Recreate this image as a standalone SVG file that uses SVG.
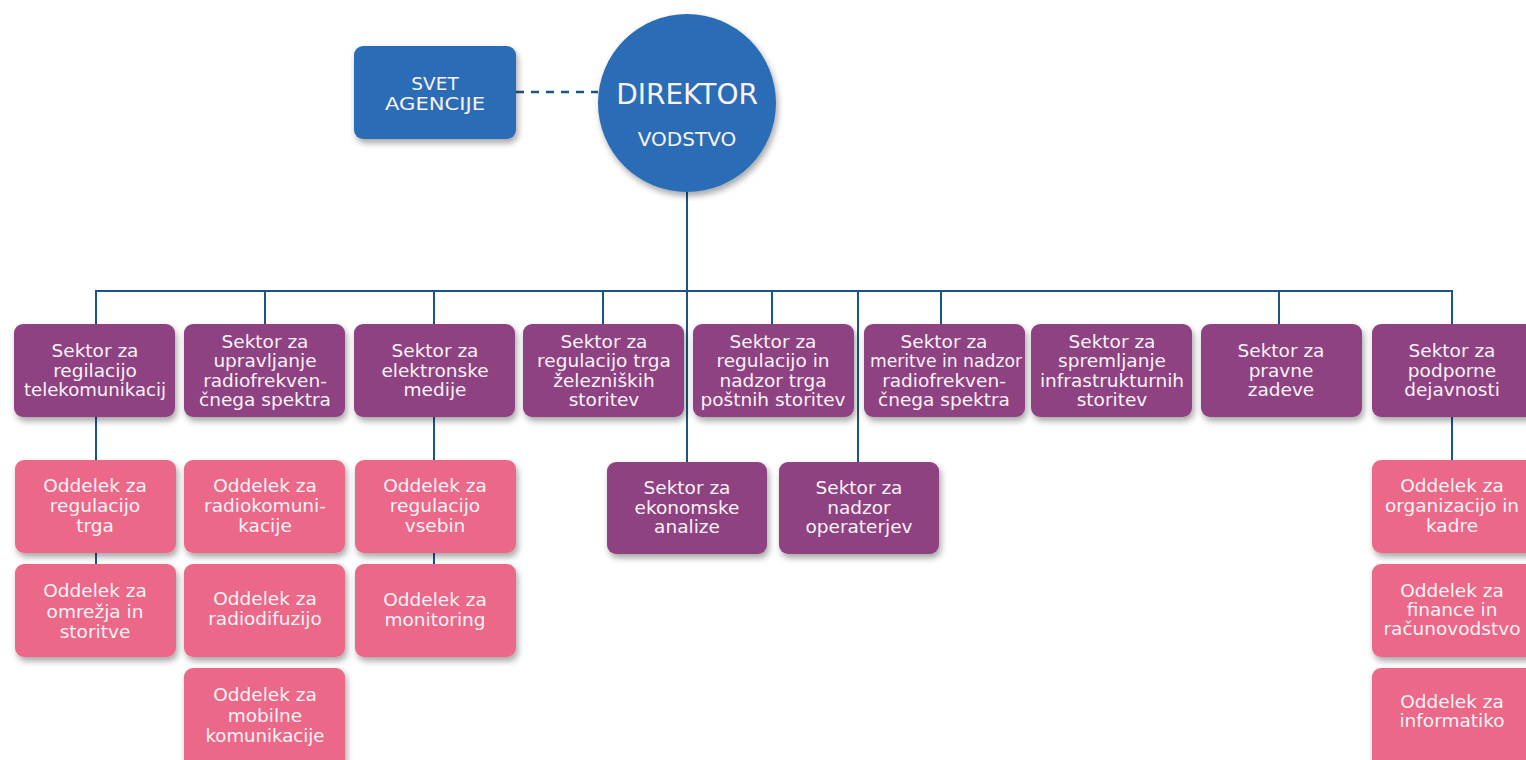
<svg xmlns="http://www.w3.org/2000/svg" width="1526" height="760" viewBox="0 0 1526 760">
<defs>
<filter id="sh" x="-20%" y="-20%" width="140%" height="150%">
<feDropShadow dx="2" dy="4" stdDeviation="3" flood-color="#000" flood-opacity="0.35"/>
</filter>
<style>
.blue{fill:#2a6db6;filter:url(#sh)}
.sek{fill:#8e4282;filter:url(#sh)}
.odd{fill:#ec6888;filter:url(#sh)}
text{font-family:"DejaVu Sans","Liberation Sans",sans-serif;fill:#fbf3f7;text-anchor:middle;font-size:18.5px}
.ln{stroke:#1b5585;stroke-width:2;fill:none}
.dash{stroke:#1b5585;stroke-width:2.5;stroke-dasharray:8 7;fill:none}
</style>
</defs>
<rect width="1526" height="760" fill="#ffffff"/>

<g id="connectors">
<line class="dash" x1="516" y1="92" x2="598" y2="92"/>
<line class="ln" x1="687" y1="190" x2="687" y2="462"/>
<line class="ln" x1="95" y1="291" x2="1453" y2="291"/>
<line class="ln" x1="96" y1="291" x2="96" y2="324"/>
<line class="ln" x1="265" y1="291" x2="265" y2="324"/>
<line class="ln" x1="434" y1="291" x2="434" y2="324"/>
<line class="ln" x1="603" y1="291" x2="603" y2="324"/>
<line class="ln" x1="772" y1="291" x2="772" y2="324"/>
<line class="ln" x1="858" y1="291" x2="858" y2="462"/>
<line class="ln" x1="941" y1="291" x2="941" y2="324"/>
<line class="ln" x1="1279" y1="291" x2="1279" y2="324"/>
<line class="ln" x1="1452" y1="291" x2="1452" y2="324"/>
<line class="ln" x1="96" y1="417" x2="96" y2="564"/>
<line class="ln" x1="434" y1="417" x2="434" y2="564"/>
<line class="ln" x1="1452" y1="417" x2="1452" y2="460"/>
</g>

<g id="svet">
<rect class="blue" x="354" y="46" width="162" height="93" rx="9"/>
<text x="435" y="90">SVET</text>
<text x="435" y="110" textLength="100" lengthAdjust="spacingAndGlyphs">AGENCIJE</text>
</g>

<g id="direktor">
<circle class="blue" cx="687" cy="103" r="89"/>
<text x="687" y="104" style="font-size:28px">DIREKTOR</text>
<text x="687" y="146" style="font-size:20px">VODSTVO</text>
</g>

<g id="s1">
<rect class="sek" x="14" y="324" width="161" height="93" rx="9"/>
<text x="95" y="357">Sektor za</text>
<text x="95" y="377">regilacijo</text>
<text x="95" y="396" textLength="142" lengthAdjust="spacingAndGlyphs">telekomunikacij</text>
</g>
<g id="s2">
<rect class="sek" x="184" y="324" width="161" height="93" rx="9"/>
<text x="265" y="348">Sektor za</text>
<text x="265" y="367">upravljanje</text>
<text x="265" y="387">radiofrekven-</text>
<text x="265" y="406">čnega spektra</text>
</g>
<g id="s3">
<rect class="sek" x="354" y="324" width="161" height="93" rx="9"/>
<text x="435" y="357">Sektor za</text>
<text x="435" y="377">elektronske</text>
<text x="435" y="396">medije</text>
</g>
<g id="s4">
<rect class="sek" x="523" y="324" width="161" height="93" rx="9"/>
<text x="604" y="348">Sektor za</text>
<text x="604" y="367">regulacijo trga</text>
<text x="604" y="387">železniških</text>
<text x="604" y="406">storitev</text>
</g>
<g id="s5">
<rect class="sek" x="693" y="324" width="161" height="93" rx="9"/>
<text x="773" y="348">Sektor za</text>
<text x="773" y="367">regulacijo in</text>
<text x="773" y="387">nadzor trga</text>
<text x="773" y="406">poštnih storitev</text>
</g>
<g id="s6">
<rect class="sek" x="864" y="324" width="161" height="93" rx="9"/>
<text x="944" y="348">Sektor za</text>
<text x="946" y="367" textLength="152" lengthAdjust="spacingAndGlyphs">meritve in nadzor</text>
<text x="944" y="387">radiofrekven-</text>
<text x="944" y="406">čnega spektra</text>
</g>
<g id="s7">
<rect class="sek" x="1031" y="324" width="161" height="93" rx="9"/>
<text x="1112" y="348">Sektor za</text>
<text x="1112" y="367">spremljanje</text>
<text x="1112" y="387">infrastrukturnih</text>
<text x="1112" y="406">storitev</text>
</g>
<g id="s8">
<rect class="sek" x="1201" y="324" width="161" height="93" rx="9"/>
<text x="1281" y="357">Sektor za</text>
<text x="1281" y="377">pravne</text>
<text x="1281" y="396">zadeve</text>
</g>
<g id="s9">
<rect class="sek" x="1372" y="324" width="170" height="93" rx="9"/>
<text x="1452" y="357">Sektor za</text>
<text x="1452" y="377">podporne</text>
<text x="1452" y="396">dejavnosti</text>
</g>
<g id="s10">
<rect class="sek" x="607" y="462" width="160" height="92" rx="9"/>
<text x="687" y="494">Sektor za</text>
<text x="687" y="514">ekonomske</text>
<text x="687" y="533">analize</text>
</g>
<g id="s11">
<rect class="sek" x="779" y="462" width="160" height="92" rx="9"/>
<text x="859" y="494">Sektor za</text>
<text x="859" y="514">nadzor</text>
<text x="859" y="533">operaterjev</text>
</g>

<g id="o1">
<rect class="odd" x="15" y="460" width="161" height="93" rx="9"/>
<text x="95" y="492">Oddelek za</text>
<text x="95" y="512">regulacijo</text>
<text x="95" y="532">trga</text>
</g>
<g id="o2">
<rect class="odd" x="15" y="564" width="161" height="93" rx="9"/>
<text x="95" y="597">Oddelek za</text>
<text x="95" y="618">omrežja in</text>
<text x="95" y="638">storitve</text>
</g>
<g id="o3">
<rect class="odd" x="184" y="460" width="161" height="93" rx="9"/>
<text x="265" y="492">Oddelek za</text>
<text x="265" y="512">radiokomuni-</text>
<text x="265" y="532">kacije</text>
</g>
<g id="o4">
<rect class="odd" x="184" y="564" width="161" height="93" rx="9"/>
<text x="265" y="605">Oddelek za</text>
<text x="265" y="625">radiodifuzijo</text>
</g>
<g id="o5">
<rect class="odd" x="184" y="668" width="161" height="100" rx="9"/>
<text x="265" y="701">Oddelek za</text>
<text x="265" y="722">mobilne</text>
<text x="265" y="742" textLength="119" lengthAdjust="spacingAndGlyphs">komunikacije</text>
</g>
<g id="o6">
<rect class="odd" x="355" y="460" width="161" height="93" rx="9"/>
<text x="435" y="492">Oddelek za</text>
<text x="435" y="512">regulacijo</text>
<text x="435" y="532">vsebin</text>
</g>
<g id="o7">
<rect class="odd" x="355" y="564" width="161" height="93" rx="9"/>
<text x="435" y="606">Oddelek za</text>
<text x="435" y="626">monitoring</text>
</g>
<g id="o8">
<rect class="odd" x="1372" y="460" width="170" height="93" rx="9"/>
<text x="1452" y="492">Oddelek za</text>
<text x="1452" y="512">organizacijo in</text>
<text x="1452" y="532">kadre</text>
</g>
<g id="o9">
<rect class="odd" x="1372" y="564" width="170" height="93" rx="9"/>
<text x="1452" y="597">Oddelek za</text>
<text x="1452" y="616">finance in</text>
<text x="1452" y="635">računovodstvo</text>
</g>
<g id="o10">
<rect class="odd" x="1372" y="668" width="170" height="100" rx="9"/>
<text x="1452" y="708">Oddelek za</text>
<text x="1452" y="727">informatiko</text>
</g>
</svg>
